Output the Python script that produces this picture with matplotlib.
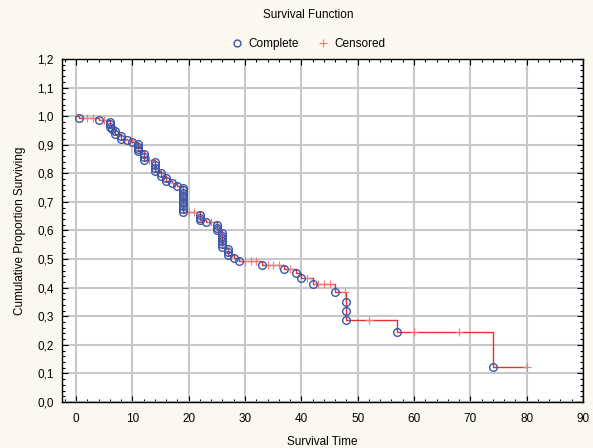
import matplotlib
matplotlib.use("Agg")
import matplotlib.pyplot as plt
from matplotlib.ticker import MultipleLocator, FuncFormatter
from matplotlib.lines import Line2D

plt.rcParams["font.family"] = ["Liberation Sans", "DejaVu Sans"]

# complete (event) observations: time, cumulative proportion surviving
event_time = [0.5, 4, 6, 6, 6, 6.4, 7, 7, 8, 8, 9, 10,
              11, 11, 11, 11, 12, 12, 12, 14, 14, 14, 14, 15, 15, 16, 16, 17, 18,
              19, 19, 19, 19, 19, 19, 19, 19, 19, 19,
              22, 22, 22, 23, 25, 25, 25,
              26, 26, 26, 26, 26, 26, 27, 27, 27, 28, 29,
              33, 37, 39, 40, 42, 46, 48, 48, 48, 57, 74]
event_surv = [0.993, 0.988, 0.981, 0.972, 0.963, 0.956, 0.947, 0.938, 0.929, 0.921, 0.915, 0.910,
              0.902, 0.893, 0.885, 0.877, 0.866, 0.857, 0.848, 0.840, 0.829, 0.818, 0.807,
              0.800, 0.791, 0.782, 0.773, 0.765, 0.757,
              0.750, 0.741, 0.732, 0.722, 0.713, 0.704, 0.695, 0.685, 0.675, 0.665,
              0.654, 0.644, 0.636, 0.628, 0.619, 0.610, 0.601,
              0.592, 0.582, 0.572, 0.562, 0.552, 0.543, 0.534, 0.524, 0.514, 0.504, 0.494,
              0.478, 0.464, 0.450, 0.434, 0.413, 0.384, 0.351, 0.318, 0.287, 0.244, 0.121]

# censored observations
cens_time = [2, 3, 5, 9.5, 13, 17.5, 20, 21, 24, 26.5, 30, 31, 32,
             34, 35, 36, 38, 41, 43, 44, 45, 47.8, 52, 60, 68, 80]
cens_surv = [0.993, 0.993, 0.988, 0.915, 0.848, 0.765, 0.665, 0.665, 0.628, 0.543,
             0.494, 0.494, 0.494, 0.478, 0.478, 0.478, 0.464, 0.434, 0.413, 0.413,
             0.413, 0.384, 0.287, 0.244, 0.244, 0.121]

line_color = "#e8302f"
circle_color = "#3a56a8"
cens_color = "#f27a7a"
bg = "#fcf8ef"

fig = plt.figure(figsize=(5.93, 4.48), dpi=100, facecolor=bg)
ax = fig.add_axes([0.1045, 0.1027, 0.8786, 0.7656])
ax.set_facecolor("white")

# step line built from the events and censored points (same time: higher value first)
pts = sorted([(0, 1.0)] + list(zip(event_time, event_surv)) + list(zip(cens_time, cens_surv)),
             key=lambda p: (p[0], -p[1]))
step_t = [p[0] for p in pts]
step_s = [p[1] for p in pts]
ax.plot(step_t, step_s, drawstyle="steps-post", color=line_color, lw=1, zorder=3)

ax.plot(cens_time, cens_surv, ls="none", marker="+", ms=6, mew=0.8,
        color=cens_color, zorder=4)
ax.plot(event_time, event_surv, ls="none", marker="o", ms=5.5, mew=1,
        mfc="none", mec=circle_color, zorder=5)

ax.set_xlim(-2.5, 90)
ax.set_ylim(0, 1.2)
ax.xaxis.set_major_locator(MultipleLocator(10))
ax.xaxis.set_minor_locator(MultipleLocator(2))
ax.yaxis.set_major_locator(MultipleLocator(0.1))
ax.yaxis.set_minor_locator(MultipleLocator(0.02))
ax.yaxis.set_major_formatter(FuncFormatter(lambda v, p: f"{v:.1f}".replace(".", ",")))
ax.tick_params(which="both", direction="in", top=True, right=True,
               labelsize=8.5, colors="black")
ax.tick_params(which="major", length=4, width=0.8)
ax.tick_params(which="minor", length=2.5, width=0.8)
ax.tick_params(axis="x", pad=8)
ax.tick_params(axis="y", pad=6)
ax.grid(True, which="major", color="#c8c8c8", lw=1.5, zorder=0)
ax.set_axisbelow(True)
for sp in ax.spines.values():
    sp.set_linewidth(1)

ax.set_xlabel("Survival Time", fontsize=8.5, labelpad=8)
ax.set_ylabel("Cumulative Proportion Surviving", fontsize=8.5, labelpad=8)

fig.text(0.52, 0.966, "Survival Function", ha="center", va="center", fontsize=8.5)
handles = [
    Line2D([], [], ls="none", marker="o", ms=5, mfc="none", mec=circle_color),
    Line2D([], [], ls="none", marker="+", ms=6, mew=0.8, color=cens_color),
]
fig.legend(handles, ["Complete", "Censored"],
           loc="center", bbox_to_anchor=(0.52, 0.901), ncol=2,
           frameon=False, fontsize=8.5,
           handlelength=1.0, handletextpad=0.5, columnspacing=1.5)

fig.savefig("out.png", dpi=100, facecolor=bg)
